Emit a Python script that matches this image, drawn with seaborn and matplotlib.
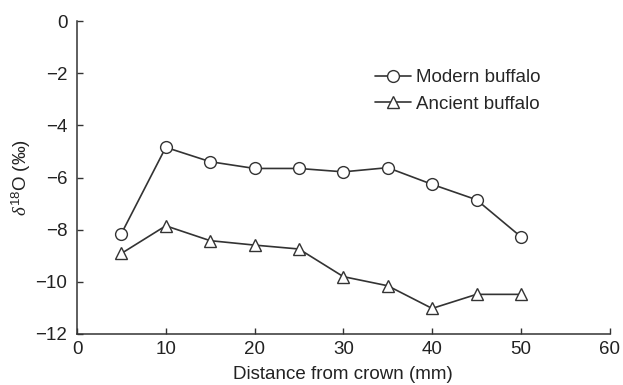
import matplotlib
matplotlib.use("Agg")
import matplotlib.pyplot as plt
import seaborn as sns
import pandas as pd

distance = [5, 10, 15, 20, 25, 30, 35, 40, 45, 50]
modern = [-8.15, -4.84, -5.39, -5.65, -5.65, -5.78, -5.62, -6.26, -6.85, -8.27]
ancient = [-8.91, -7.85, -8.42, -8.59, -8.74, -9.80, -10.15, -11.02, -10.48, -10.48]
series_names = ["Modern buffalo", "Ancient buffalo"]
x_ticks = [0, 10, 20, 30, 40, 50, 60]
y_ticks = [0, -2, -4, -6, -8, -10, -12]

df = pd.DataFrame({
    "distance": distance * 2,
    "d18O": modern + ancient,
    "series": [series_names[0]] * len(distance) + [series_names[1]] * len(distance),
})

sns.set_theme(style="ticks")
plt.rcParams["font.family"] = ["Liberation Sans", "DejaVu Sans"]
plt.rcParams["mathtext.fontset"] = "custom"
plt.rcParams["mathtext.rm"] = "Liberation Sans"
plt.rcParams["mathtext.it"] = "Liberation Serif:italic"

fig = plt.figure(figsize=(6.23, 3.85), dpi=100)
ax = fig.add_axes([0.1236, 0.1325, 0.855, 0.8125])

col = "#333333"
fs = 13.5
sns.lineplot(data=df, x="distance", y="d18O", hue="series", style="series",
             markers={"Modern buffalo": "o", "Ancient buffalo": "^"},
             dashes=False, palette={"Modern buffalo": col, "Ancient buffalo": col},
             markersize=8.5, markerfacecolor="white", markeredgecolor=col,
             markeredgewidth=1.0, linewidth=1.2, ax=ax)

ax.set_xlim(0, 60)
ax.set_ylim(-12, 0)
ax.set_xticks(x_ticks)
ax.set_yticks(y_ticks)
ax.set_yticklabels([f"\u2212{abs(v)}" if v < 0 else str(v) for v in y_ticks])
ax.tick_params(direction="in", length=4, width=1, colors=col, labelsize=fs, labelcolor="#222222")
ax.tick_params(axis="y", pad=7)
ax.tick_params(axis="x", pad=5)
for s in ["top", "right"]:
    ax.spines[s].set_visible(False)
for s in ["left", "bottom"]:
    ax.spines[s].set_color(col)
    ax.spines[s].set_linewidth(1.1)

ax.set_xlabel("Distance from crown (mm)", fontsize=fs, color="#222222", labelpad=6)
ax.set_ylabel(r"$\delta^{18}$O ($\it{‰}$)", fontsize=fs, color="#222222", labelpad=2)

leg = ax.legend(loc="upper left", bbox_to_anchor=(0.546, 0.87), frameon=False,
                fontsize=fs, handlelength=1.9, handletextpad=0.25, labelspacing=0.5,
                borderaxespad=0.0)
for h in leg.legend_handles:
    h.set_markerfacecolor("white")
    h.set_markeredgecolor(col)

fig.savefig("out.png", dpi=100, facecolor="white")
